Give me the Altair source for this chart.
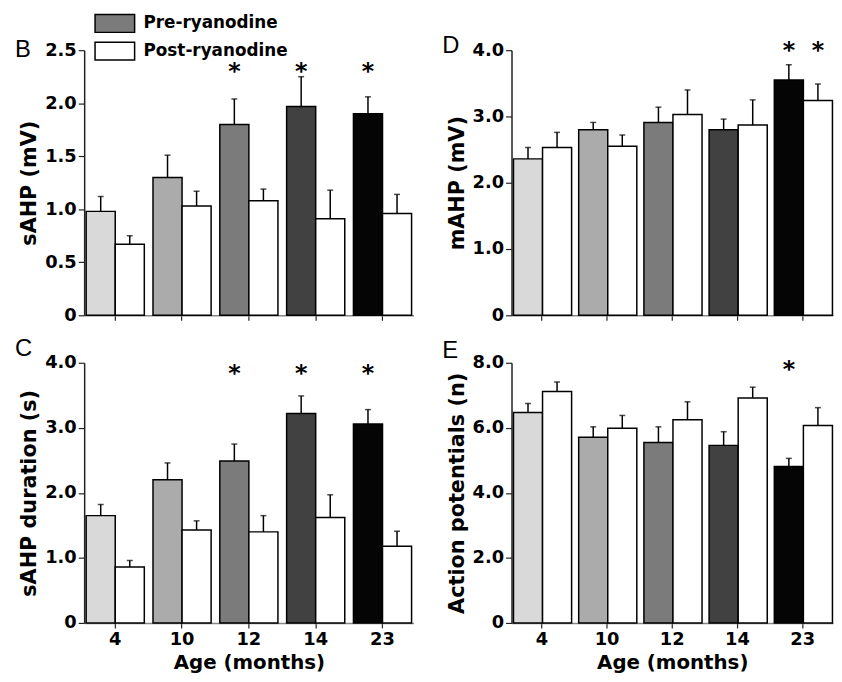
import altair as alt
import pandas as pd

FONT = "DejaVu Sans"
LETTER_FONT = "Liberation Sans"

ages = ["4", "10", "12", "14", "23"]
conds = ["Pre-ryanodine", "Post-ryanodine"]
pre_colors = ["#d9d9d9", "#ababab", "#7b7b7b", "#414141", "#050505"]
post_color = "#ffffff"
legend_colors = ["#7b7b7b", "#ffffff"]

# Panel B: sAHP (mV)
sahp_pre = [0.98, 1.30, 1.80, 1.97, 1.90]
sahp_pre_err = [0.14, 0.21, 0.24, 0.28, 0.16]
sahp_post = [0.67, 1.03, 1.08, 0.91, 0.96]
sahp_post_err = [0.08, 0.14, 0.11, 0.27, 0.18]
sahp_stars = [("12", "Pre-ryanodine"), ("14", "Pre-ryanodine"), ("23", "Pre-ryanodine")]

# Panel D: mAHP (mV)
mahp_pre = [2.36, 2.80, 2.91, 2.80, 3.55]
mahp_pre_err = [0.17, 0.11, 0.23, 0.16, 0.23]
mahp_post = [2.53, 2.55, 3.03, 2.87, 3.24]
mahp_post_err = [0.23, 0.17, 0.37, 0.38, 0.25]
mahp_stars = [("23", "Pre-ryanodine"), ("23", "Post-ryanodine")]

# Panel C: sAHP duration (s)
dur_pre = [1.65, 2.20, 2.49, 3.22, 3.06]
dur_pre_err = [0.17, 0.26, 0.26, 0.27, 0.22]
dur_post = [0.86, 1.43, 1.40, 1.62, 1.18]
dur_post_err = [0.10, 0.14, 0.25, 0.35, 0.23]
dur_stars = [("12", "Pre-ryanodine"), ("14", "Pre-ryanodine"), ("23", "Pre-ryanodine")]

# Panel E: Action potentials (n)
ap_pre = [6.47, 5.71, 5.55, 5.46, 4.81]
ap_pre_err = [0.28, 0.32, 0.48, 0.42, 0.25]
ap_post = [7.12, 5.99, 6.25, 6.92, 6.07]
ap_post_err = [0.29, 0.39, 0.55, 0.33, 0.55]
ap_stars = [("23", "Pre-ryanodine")]


def panel(letter, letter_dy, pre, pre_err, post, post_err, stars, star_y,
          ytitle, ymax, major, minor, bottom, width, height, legend=False):
    rows = []
    for i, a in enumerate(ages):
        rows.append(dict(age=a, cond=conds[0], value=pre[i], top=pre[i] + pre_err[i], fillcol=pre_colors[i]))
        rows.append(dict(age=a, cond=conds[1], value=post[i], top=post[i] + post_err[i], fillcol=post_color))
    df = pd.DataFrame(rows)
    sdf = pd.DataFrame([dict(age=a, cond=c, y=star_y) for a, c in stars])

    n = int(round(ymax / minor))
    vals = [round(k * minor, 4) for k in range(n + 1)]
    is_major = f"abs(datum.value/{major} - round(datum.value/{major})) < 0.001"
    yaxis = alt.Axis(
        values=vals, grid=False,
        labelExpr=f"{is_major} ? (datum.value == 0 ? '0' : format(datum.value, '.1f')) : ''",
        tickSize={"condition": {"test": is_major, "value": 6}, "value": 3},
        domainColor="#222222", domainWidth=1.5, tickColor="#222222", tickWidth=1.2,
        labelFont=FONT, labelFontSize=18, labelFontWeight="bold", labelColor="black",
        labelPadding=2,
        titleFont=FONT, titleFontSize=21, titleFontWeight="bold", titleColor="black",
        titlePadding=5,
    )
    xkw = dict(grid=False, labelAngle=0, ticks=True, tickSize=5, tickColor="#222222", tickWidth=1.2,
               domainColor="#888888", domainWidth=1.5, labels=bottom,
               labelFont=FONT, labelFontSize=18, labelFontWeight="bold", labelColor="black",
               labelPadding=3,
               titleFont=FONT, titleFontSize=20, titleFontWeight="bold", titleColor="black",
               titlePadding=4)
    xaxis = alt.Axis(**xkw)
    if bottom:
        xenc = alt.X("age:N", sort=ages, scale=alt.Scale(paddingInner=0.13, paddingOuter=0.03),
                     axis=xaxis, title="Age (months)")
    else:
        xenc = alt.X("age:N", sort=ages, scale=alt.Scale(paddingInner=0.13, paddingOuter=0.03),
                     axis=xaxis, title=None)
    xoff = alt.XOffset("cond:N", sort=conds, scale=alt.Scale(paddingInner=0, paddingOuter=0))
    yscale = alt.Scale(domain=[0, ymax], nice=False, zero=True)

    base = alt.Chart(df)
    bars = base.mark_bar(stroke="black", strokeWidth=1.5).encode(
        x=xenc, xOffset=xoff,
        y=alt.Y("value:Q", scale=yscale, axis=yaxis, title=ytitle),
        color=alt.Color("fillcol:N", scale=None),
    )
    rules = base.mark_rule(color="black", strokeWidth=1.5).encode(
        x=xenc, xOffset=xoff, y="value:Q", y2="top:Q")
    caps = base.mark_tick(color="black", thickness=1.5, size=6).encode(
        x=xenc, xOffset=xoff, y="top:Q")
    star = alt.Chart(sdf).mark_text(text="*", font=FONT, fontSize=24, fontWeight="bold",
                                    baseline="alphabetic", dy=13, color="black").encode(
        x=xenc, xOffset=xoff, y="y:Q")
    layers = [bars, rules, caps, star]
    if legend:
        leg = base.mark_bar(opacity=0).encode(
            x=xenc, xOffset=xoff, y="value:Q",
            fill=alt.Fill("cond:N", sort=conds,
                          scale=alt.Scale(domain=conds, range=legend_colors),
                          legend=alt.Legend(
                              title=None, orient="none", legendX=20, legendY=-38,
                              symbolType="M-2,-0.9L2,-0.9L2,0.9L-2,0.9Z",
                              symbolSize=400, symbolStrokeColor="black",
                              symbolStrokeWidth=1.5, symbolOpacity=1,
                              labelFont=FONT, labelFontSize=17, labelFontWeight="bold",
                              labelColor="black", labelOffset=18, rowPadding=4, padding=0,
                              direction="vertical")),
        )
        layers.append(leg)
    return alt.layer(*layers).properties(
        width=width, height=height,
        title=alt.TitleParams(text=letter, anchor="start", frame="group", font=LETTER_FONT,
                              fontSize=24, fontWeight="normal", color="black",
                              baseline="alphabetic", offset=0, dx=-70, dy=letter_dy),
    )


pB = panel("B", 40, sahp_pre, sahp_pre_err, sahp_post, sahp_post_err, sahp_stars, 2.35,
           "sAHP (mV)", 2.5, 0.5, 0.25, False, 333, 268, legend=True)
pD = panel("D", 38, mahp_pre, mahp_pre_err, mahp_post, mahp_post_err, mahp_stars, 4.08,
           "mAHP (mV)", 4.0, 1.0, 0.25, False, 325, 268)
pC = panel("C", 26, dur_pre, dur_pre_err, dur_post, dur_post_err, dur_stars, 3.92,
           "sAHP duration (s)", 4.0, 1.0, 0.25, True, 333, 263)
pE = panel("E", 28, ap_pre, ap_pre_err, ap_post, ap_post_err, ap_stars, 7.95,
           "Action potentials (n)", 8.0, 2.0, 0.5, True, 325, 263)

chart = alt.vconcat(
    alt.hconcat(pB, pD, spacing=29),
    alt.hconcat(pC, pE, spacing=29),
    spacing=13,
).properties(
    padding={"left": 7, "top": 1, "right": 0, "bottom": 0},
).configure_view(strokeWidth=0)

chart.save("out.html", embed_options={"renderer": "svg", "actions": False})
